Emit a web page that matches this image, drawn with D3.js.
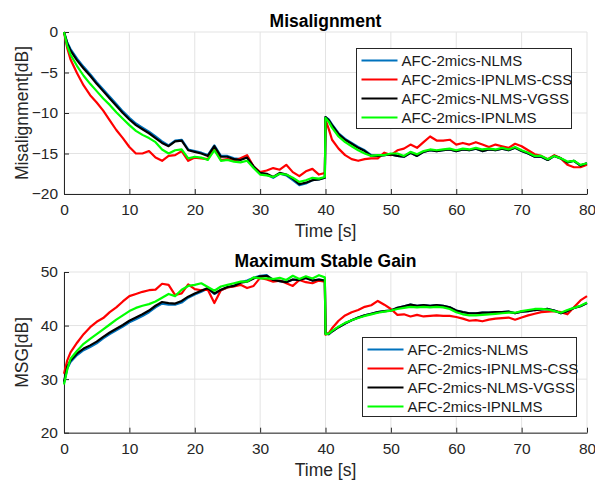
<!DOCTYPE html>
<html>
<head>
<meta charset="utf-8">
<script src="https://cdn.jsdelivr.net/npm/d3@7"></script>
<style>
    body { margin: 0; background: #fff; }
    svg { display: block; font-family: "Liberation Sans", Arial, sans-serif; }
</style>
</head>
<body>
<svg id="chart" width="595" height="481"></svg>
<script>
const timeSec = [0, 0.5, 1, 2, 3, 4, 5, 6, 7, 8, 9, 10, 11, 12, 13, 14, 15, 16, 17, 18, 19, 20,
    21, 22, 23, 24, 25, 26, 27, 28, 29, 30, 31, 32, 33, 34, 35, 36, 37, 38, 39, 39.9, 40, 40.5,
    41, 42, 43, 44, 45, 46, 47, 48, 49, 50, 51, 52, 53, 54, 55, 56, 57, 58, 59, 60,
    61, 62, 63, 64, 65, 66, 67, 68, 69, 70, 71, 72, 73, 74, 75, 76, 77, 78, 79, 80];

const seriesNames = ["AFC-2mics-NLMS", "AFC-2mics-IPNLMS-CSS", "AFC-2mics-NLMS-VGSS", "AFC-2mics-IPNLMS"];
const seriesColors = ["#0072bd", "#ff0000", "#000000", "#00ff00"];

// misalignment [dB]
const misNLMS = [0, -1.3, -2.1, -3.3, -4.3, -5.2, -6.2, -7.1, -8.0, -8.9, -9.8, -10.6, -11.3, -11.8, -12.3, -12.9, -13.5, -14.0, -13.4, -13.3, -14.5, -14.7,
    -14.9, -15.2, -14.0, -15.3, -15.3, -15.6, -15.7, -15.5, -16.6, -17.5, -17.6, -18.0, -17.5, -17.7, -18.3, -18.9, -18.7, -18.3, -18.2, -18.0, -10.5, -10.8,
    -11.4, -12.5, -13.2, -13.7, -14.2, -14.6, -15.2, -15.3, -15.2, -15.1, -15.3, -15.4, -14.9, -15.3, -14.8, -14.6, -14.7, -14.6, -14.5, -14.7,
    -14.5, -14.6, -14.4, -14.7, -14.5, -14.6, -14.4, -14.6, -14.3, -14.7, -15.0, -15.4, -15.4, -15.8, -15.3, -15.6, -16.1, -15.9, -16.5, -16.2];
const misIPNLMSCSS = [0, -2.0, -3.4, -5.1, -6.6, -7.8, -8.7, -9.7, -10.9, -12.1, -13.1, -14.2, -15.0, -15.0, -14.7, -15.5, -15.9, -15.3, -15.2, -14.7, -15.9, -15.5,
    -15.6, -15.7, -14.4, -15.8, -15.7, -15.9, -15.6, -15.2, -16.6, -17.3, -17.1, -16.8, -17.0, -16.4, -17.3, -17.8, -17.2, -16.9, -17.6, -17.4, -10.8, -12.0,
    -13.3, -14.4, -15.2, -15.7, -15.9, -15.7, -15.6, -15.6, -14.9, -15.2, -14.6, -14.4, -13.9, -14.3, -13.6, -12.9, -13.4, -13.4, -13.3, -13.9,
    -13.7, -13.9, -13.6, -13.9, -14.2, -13.9, -14.1, -14.3, -13.8, -14.1, -14.6, -15.1, -15.3, -15.7, -15.2, -15.6, -16.4, -16.7, -16.7, -16.4];
const misNLMSVGSS = [0, -1.4, -2.3, -3.5, -4.5, -5.4, -6.4, -7.3, -8.2, -9.1, -10.0, -10.8, -11.5, -12.0, -12.5, -13.1, -13.7, -14.1, -13.5, -13.4, -14.6, -14.8,
    -15.0, -15.3, -14.1, -15.4, -15.4, -15.7, -15.8, -15.5, -16.6, -17.4, -17.5, -17.9, -17.4, -17.6, -18.1, -18.8, -18.6, -18.3, -18.2, -18.0, -10.5, -10.9,
    -11.5, -12.6, -13.3, -13.8, -14.3, -14.7, -15.3, -15.3, -15.2, -15.1, -15.3, -15.4, -14.9, -15.3, -14.8, -14.6, -14.7, -14.6, -14.5, -14.7,
    -14.5, -14.6, -14.4, -14.7, -14.5, -14.6, -14.4, -14.6, -14.3, -14.7, -15.0, -15.4, -15.4, -15.8, -15.3, -15.6, -16.1, -15.9, -16.5, -16.2];
const misIPNLMS = [0, -1.7, -2.8, -4.2, -5.4, -6.4, -7.3, -8.2, -9.0, -9.9, -10.7, -11.5, -12.2, -12.7, -13.1, -13.6, -14.5, -15.0, -14.6, -14.5, -15.6, -15.4,
    -15.5, -15.8, -14.6, -15.9, -15.8, -16.0, -16.1, -15.9, -16.8, -17.6, -17.7, -17.9, -17.5, -17.6, -18.0, -18.5, -18.3, -18.0, -18.1, -17.9, -10.6, -11.1,
    -11.8, -12.9, -13.6, -14.1, -14.6, -15.0, -15.3, -15.2, -15.2, -15.0, -15.0, -15.3, -14.8, -15.1, -14.7, -14.5, -14.6, -14.5, -14.4, -14.6,
    -14.4, -14.5, -14.3, -14.5, -14.4, -14.5, -14.3, -14.5, -14.2, -14.6, -14.9, -15.3, -15.3, -15.7, -15.3, -15.6, -16.0, -15.9, -16.4, -16.2];

// maximum stable gain [dB]
const msgNLMS = [29.3, 32.0, 33.2, 34.5, 35.4, 36.0, 36.7, 37.6, 38.4, 39.1, 39.8, 40.6, 41.2, 41.8, 42.5, 43.4, 44.1, 43.9, 43.9, 44.3, 45.2, 45.8,
    46.3, 46.9, 45.9, 46.6, 47.1, 47.4, 48.1, 48.4, 48.9, 49.3, 49.4, 48.5, 48.3, 48.1, 48.6, 48.5, 48.9, 48.4, 48.6, 48.4, 38.5, 38.4,
    38.9, 39.7, 40.4, 41.0, 41.5, 41.9, 42.2, 42.5, 42.7, 42.8, 43.3, 43.6, 43.9, 43.7, 43.8, 43.7, 43.8, 43.7, 43.4, 42.8,
    42.5, 42.3, 42.3, 42.4, 42.4, 42.5, 42.5, 42.6, 42.3, 42.6, 42.7, 42.9, 43.0, 43.1, 42.8, 42.3, 42.7, 43.3, 43.6, 44.2];
const msgIPNLMSCSS = [31.0, 33.5, 35.0, 36.8, 38.4, 39.7, 40.7, 41.4, 42.5, 43.4, 44.5, 45.5, 45.9, 46.3, 46.6, 46.7, 47.8, 47.6, 45.7, 46.0, 47.7, 46.8,
    46.6, 46.7, 44.2, 46.6, 47.1, 47.3, 47.6, 47.0, 47.4, 48.9, 48.6, 48.2, 48.4, 47.9, 47.4, 48.5, 48.1, 47.9, 48.4, 48.2, 38.3, 38.6,
    39.5, 40.9, 41.9, 42.5, 42.9, 43.5, 43.8, 44.6, 43.9, 43.1, 42.0, 42.1, 41.7, 42.0, 41.7, 41.8, 41.9, 41.8, 41.8, 41.6,
    41.3, 40.9, 41.0, 40.8, 41.1, 41.3, 41.4, 41.5, 41.1, 41.5, 41.9, 42.2, 42.5, 42.6, 42.7, 42.5, 42.1, 43.4, 44.7, 45.5];
const msgNLMSVGSS = [29.5, 32.3, 33.5, 34.8, 35.7, 36.3, 37.0, 37.9, 38.7, 39.4, 40.1, 40.9, 41.5, 42.1, 42.8, 43.7, 44.4, 44.2, 44.1, 44.6, 45.4, 46.0,
    46.5, 47.0, 46.0, 46.7, 47.2, 47.4, 48.0, 48.2, 48.8, 49.2, 49.3, 48.5, 48.3, 48.1, 48.6, 48.5, 48.9, 48.4, 48.6, 48.4, 38.5, 38.4,
    38.9, 39.7, 40.4, 41.0, 41.5, 41.9, 42.2, 42.5, 42.7, 42.8, 43.3, 43.6, 43.9, 43.7, 43.8, 43.7, 43.8, 43.7, 43.4, 42.8,
    42.5, 42.3, 42.3, 42.4, 42.4, 42.5, 42.5, 42.6, 42.3, 42.6, 42.7, 42.9, 43.0, 43.1, 42.8, 42.3, 42.7, 43.3, 43.6, 44.2];
const msgIPNLMS = [29.0, 31.8, 33.8, 35.3, 36.6, 37.5, 38.4, 39.3, 40.2, 41.1, 41.9, 42.7, 43.3, 43.7, 44.0, 44.5, 45.2, 45.9, 45.5, 46.7, 47.4, 47.6,
    47.9, 47.2, 46.5, 47.3, 47.6, 47.9, 48.2, 48.2, 49.0, 48.8, 48.8, 48.7, 48.9, 48.5, 49.3, 48.7, 49.2, 48.8, 49.4, 49.0, 38.4, 38.5,
    39.0, 39.8, 40.5, 41.0, 41.4, 41.8, 42.1, 42.4, 42.6, 42.8, 43.1, 43.3, 43.5, 43.4, 43.5, 43.4, 43.5, 43.4, 43.1, 42.5,
    42.1, 41.9, 41.9, 42.0, 42.1, 42.2, 42.3, 42.4, 42.4, 42.7, 42.9, 43.1, 43.1, 43.0, 42.7, 42.4, 42.9, 43.3, 43.7, 44.3];

const timeTicks = [0, 10, 20, 30, 40, 50, 60, 70, 80];
const misTicks = [0, -5, -10, -15, -20];
const msgTicks = [20, 30, 40, 50];

const svg = d3.select("#chart");
const axisColor = "#262626";
const gridColor = "#e3e3e3";

function drawPanel(opts) {
    const { top, bottom, left, right, yDomain, yTicks, series, title, yLabel, legend } = opts;

    const x = d3.scaleLinear().domain([0, 80]).range([left, right]);
    const y = d3.scaleLinear().domain(yDomain).range([bottom, top]);

    const g = svg.append("g");

    // grid
    g.append("g")
        .selectAll("line")
        .data(timeTicks)
        .join("line")
        .attr("x1", d => x(d)).attr("x2", d => x(d))
        .attr("y1", top).attr("y2", bottom)
        .attr("stroke", gridColor);
    g.append("g")
        .selectAll("line")
        .data(yTicks)
        .join("line")
        .attr("x1", left).attr("x2", right)
        .attr("y1", d => y(d)).attr("y2", d => y(d))
        .attr("stroke", gridColor);

    // axes, ticks pointing inward like matlab
    const xAxis = g.append("g")
        .attr("transform", `translate(0,${bottom})`)
        .call(d3.axisBottom(x).tickValues(timeTicks).tickSizeInner(-5).tickSizeOuter(0).tickPadding(10));
    const yAxis = g.append("g")
        .attr("transform", `translate(${left},0)`)
        .call(d3.axisLeft(y).tickValues(yTicks).tickSizeInner(-5).tickSizeOuter(0).tickPadding(6));

    [xAxis, yAxis].forEach(ax => {
        ax.select(".domain").attr("stroke", axisColor).attr("stroke-width", 1);
        ax.selectAll(".tick line").attr("stroke", axisColor);
        ax.selectAll(".tick text")
            .attr("fill", axisColor)
            .style("font-size", "15.5px")
            .style("font-family", "Liberation Sans, Arial, sans-serif");
    });

    // lines
    const line = d3.line()
        .x((d, i) => x(timeSec[i]))
        .y(d => y(d));

    g.append("g")
        .selectAll("path")
        .data(series)
        .join("path")
        .attr("d", d => line(d))
        .attr("fill", "none")
        .attr("stroke", (d, i) => seriesColors[i])
        .attr("stroke-width", 2.2)
        .attr("stroke-linejoin", "round");

    // title + labels
    svg.append("text")
        .attr("x", (left + right) / 2)
        .attr("y", top - 5)
        .attr("text-anchor", "middle")
        .style("font-size", "17.5px")
        .style("font-weight", "bold")
        .text(title);

    svg.append("text")
        .attr("x", (left + right) / 2)
        .attr("y", bottom + 43)
        .attr("text-anchor", "middle")
        .attr("fill", axisColor)
        .style("font-size", "17.5px")
        .text("Time [s]");

    svg.append("text")
        .attr("transform", `translate(${left - 36},${(top + bottom) / 2}) rotate(-90)`)
        .attr("text-anchor", "middle")
        .attr("fill", axisColor)
        .style("font-size", "17.5px")
        .text(yLabel);

    // legend
    const lg = svg.append("g").attr("transform", `translate(${legend.x},${legend.y})`);
    lg.append("rect")
        .attr("width", legend.w)
        .attr("height", legend.h)
        .attr("fill", "#fff")
        .attr("stroke", axisColor)
        .attr("stroke-width", 1);

    const rows = lg.selectAll(".row")
        .data(seriesNames)
        .join("g")
        .attr("class", "row")
        .attr("transform", (d, i) => `translate(0,${12 + i * 19})`);

    rows.append("line")
        .attr("x1", 5).attr("x2", 41)
        .attr("stroke", (d, i) => seriesColors[i])
        .attr("stroke-width", 2.2);

    rows.append("text")
        .attr("x", 45)
        .attr("dy", "0.36em")
        .attr("fill", "#1a1a1a")
        .style("font-size", "15px")
        .text(d => d);
}

drawPanel({
    top: 32, bottom: 194, left: 64, right: 587,
    yDomain: [-20, 0], yTicks: misTicks,
    series: [misNLMS, misIPNLMSCSS, misNLMSVGSS, misIPNLMS],
    title: "Misalignment", yLabel: "Misalignment[dB]",
    legend: { x: 356.5, y: 48.5, w: 215, h: 80 }
});

drawPanel({
    top: 272, bottom: 432.7, left: 64, right: 587,
    yDomain: [20, 50], yTicks: msgTicks,
    series: [msgNLMS, msgIPNLMSCSS, msgNLMSVGSS, msgIPNLMS],
    title: "Maximum Stable Gain", yLabel: "MSG[dB]",
    legend: { x: 362.5, y: 337.5, w: 214, h: 79 }
});
</script>
</body>
</html>
